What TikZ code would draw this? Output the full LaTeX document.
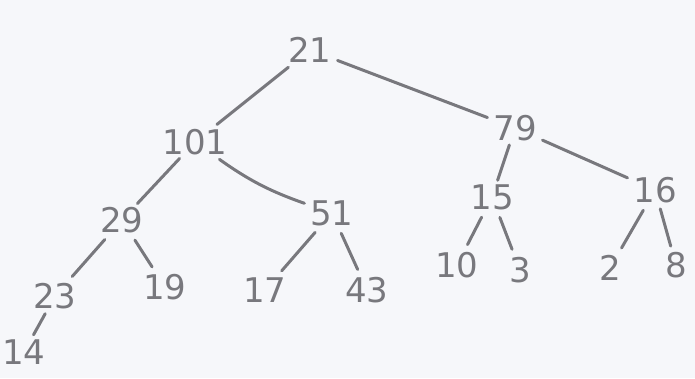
\documentclass[tikz,border=0pt]{standalone}
\usepackage{fontspec}
\setmainfont{DejaVu Sans}
\definecolor{paper}{RGB}{246,247,250}
\definecolor{pencil}{RGB}{120,120,125}
\begin{document}
\begin{tikzpicture}[x=1pt,y=-1pt,
  num/.style={text=pencil,font=\fontsize{34}{38}\selectfont,inner sep=2pt},
  edge/.style={draw=pencil,line width=3pt,line cap=round,shorten <=#1,shorten >=#1},
  edge/.default=6pt]
\useasboundingbox (0,0) rectangle (695,378);
\fill[paper] (0,0) rectangle (695,378);
\node[num] (n21) at (310,50) {21};
\node[num] (n101) at (195,142) {101};
\node[num] (n79) at (515,128) {79};
\node[num] (n29) at (122,220) {29};
\node[num] (n51) at (332,213) {51};
\node[num] (n15) at (492,197) {15};
\node[num] (n16) at (655,190) {16};
\node[num] (n23) at (55,296) {23};
\node[num] (n19) at (165,287) {19};
\node[num] (n17) at (265,290) {17};
\node[num] (n43) at (367,290) {43};
\node[num] (n10) at (457,265) {10};
\node[num] (n3) at (520,270) {3};
\node[num] (n2) at (610,268) {2};
\node[num] (n8) at (676,265) {8};
\node[num] (n14) at (24,352) {14};
\draw[edge=4pt] (n21) -- (n101);
\draw[edge=4pt] (n21) -- (n79);
\draw[edge=2pt] (n101) -- (n29);
\draw[edge=4pt] (n101) to[bend right=8] (n51);
\draw[edge=2pt] (n79) -- (n15);
\draw[edge=4pt] (n79) -- (n16);
\draw[edge] (n29) -- (n23);
\draw[edge] (n29) -- (n19);
\draw[edge=3pt] (n23) -- (n14);
\draw[edge] (n51) -- (n17);
\draw[edge] (n51) -- (n43);
\draw[edge] (n15) -- (n10);
\draw[edge] (n15) -- (n3);
\draw[edge] (n16) -- (n2);
\draw[edge=4pt] (n16) -- (n8);
\end{tikzpicture}
\end{document}
